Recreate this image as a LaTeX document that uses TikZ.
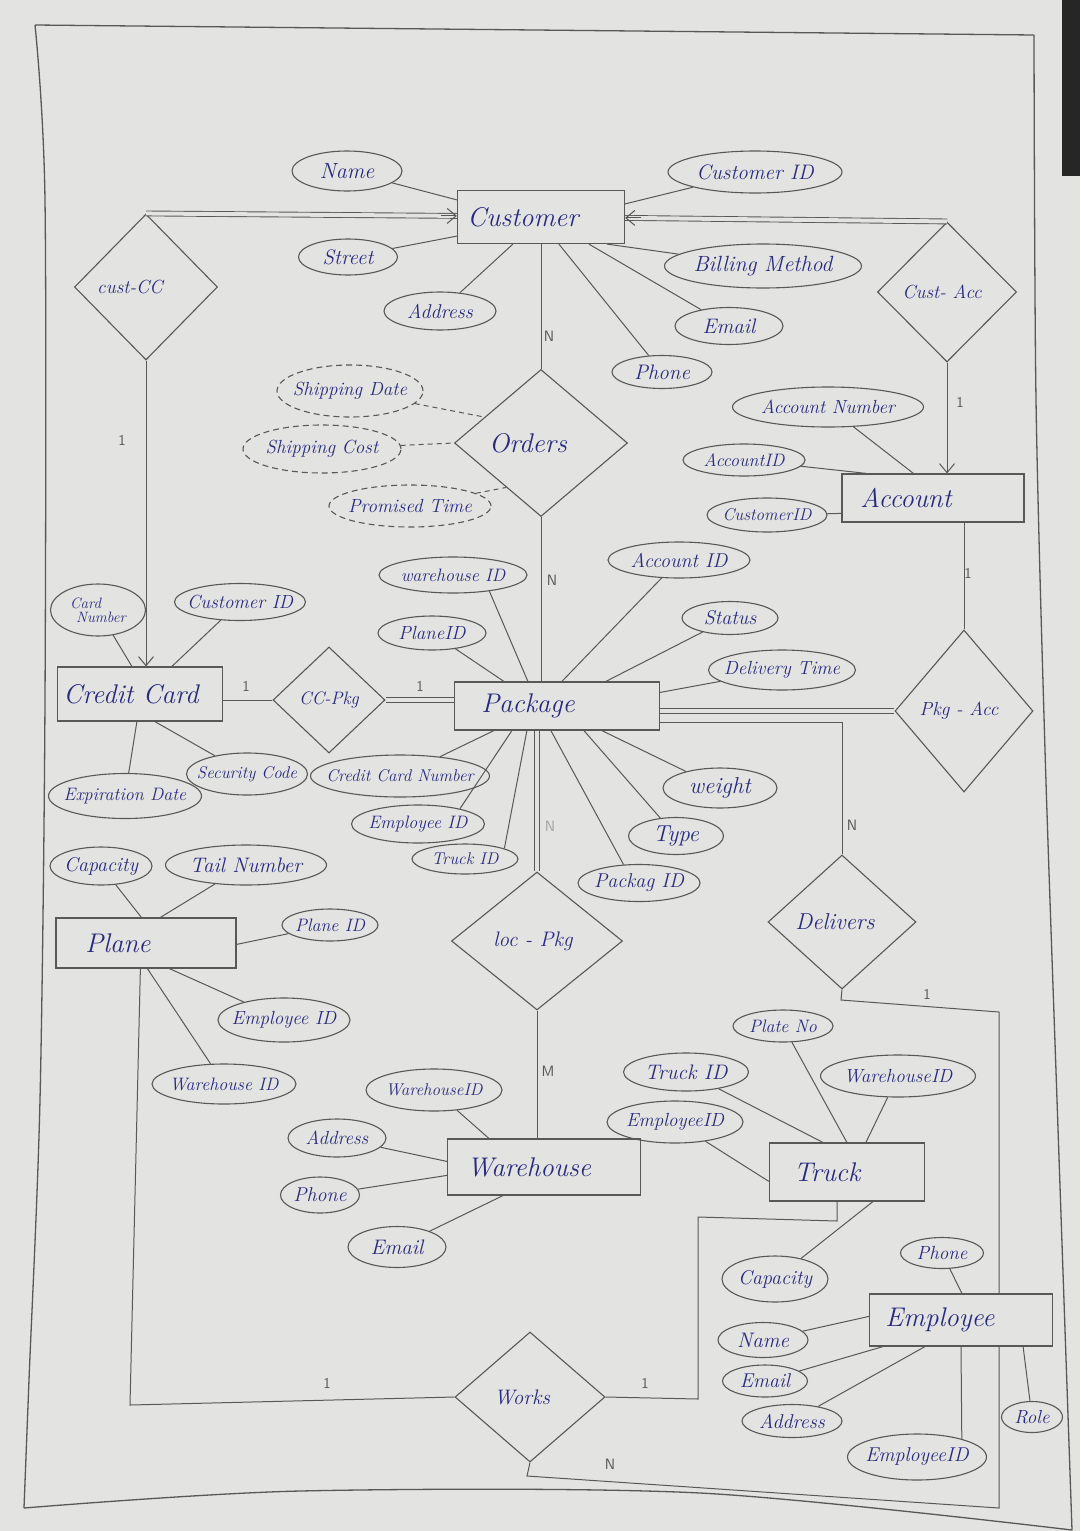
\documentclass[tikz,border=0pt]{standalone}
\usetikzlibrary{shapes.geometric,arrows.meta,calc}
\definecolor{ink}{RGB}{38,42,128}
\definecolor{pencil}{RGB}{88,88,88}
\definecolor{paper}{RGB}{227,227,225}
\newcommand\fsz[1]{\fontsize{#1}{#1}\selectfont\itshape}
\newcommand\zs[2]{\makebox[0pt]{#2\kern#1pt}}
\newcommand\zt[1]{\makebox[0pt]{#1}}
\begin{document}
\begin{tikzpicture}[x=1pt,y=-1pt,
 ent/.style={draw=pencil,line width=1.2pt,rectangle,inner sep=0pt,text=ink,font=\fsz{27}},
 attr/.style={draw=pencil,line width=1.1pt,ellipse,inner sep=0pt,text=ink},
 der/.style={attr,dash pattern=on 6pt off 4pt},
 rel/.style={draw=pencil,line width=1.1pt,diamond,inner sep=0pt,text=ink},
 conn/.style={draw=pencil,line width=1pt},
 dconn/.style={conn,dash pattern=on 5pt off 4pt},
 dbl/.style={draw=pencil,line width=0.9pt,double=paper,double distance=4pt},
 arr/.style={conn,-{Straight Barb[length=9pt,width=15pt]}},
 card/.style={text=pencil,font=\sffamily\fontsize{15}{15}\selectfont,inner sep=0pt}]
\useasboundingbox (0,0) rectangle (1080,1531);
\fill[paper] (0,0) rectangle (1080,1531);
\fill[black!85] (1062,0) rectangle (1080,176);
% page frame
\draw[pencil,line width=1.3pt] (35,25) -- (1034,35);
\draw[pencil,line width=1.3pt] plot[smooth] coordinates {(35,25) (45,200) (45,700) (40,1100) (29,1380) (24,1508)};
\draw[pencil,line width=1.3pt] plot[smooth] coordinates {(1034,35) (1036,400) (1045,750) (1057,1100) (1072,1530)};
\draw[pencil,line width=1.3pt] plot[smooth] coordinates {(24,1508) (300,1491) (700,1493) (1072,1530)};

% entities
\node[ent,minimum width=167,minimum height=53] (cust) at (541,217) {\zs{36}{Customer}};
\node[ent,minimum width=182,minimum height=48] (acc) at (933,498) {\zs{54}{Account}};
\node[ent,minimum width=205,minimum height=48] (pkg) at (557,706) {\zs{58}{Package}};
\node[ent,minimum width=165,minimum height=54] (cc) at (140,694) {\zs{18}{Credit Card}};
\node[ent,minimum width=180,minimum height=50] (plane) at (146,943) {\zs{56}{Plane}};
\node[ent,minimum width=193,minimum height=56] (wh) at (544,1167) {\zs{30}{Warehouse}};
\node[ent,minimum width=155,minimum height=58] (truck) at (847,1172) {\zs{40}{Truck}};
\node[ent,minimum width=183,minimum height=52] (emp) at (961,1320) {\zs{42}{Employee}};

% relationships
\node[rel,minimum width=143,minimum height=146,font=\fsz{19}] (custcc) at (146,287) {\zs{32}{cust-CC}};
\node[rel,minimum width=139,minimum height=140,font=\fsz{19}] (custacc) at (947,292) {\zs{10}{Cust- Acc}};
\node[rel,minimum width=173,minimum height=147,font=\fsz{27}] (orders) at (541,443) {\zs{26}{Orders}};
\node[rel,minimum width=112,minimum height=106,font=\fsz{18}] (ccpkg) at (329,700) {\zt{CC-Pkg}};
\node[rel,minimum width=138,minimum height=162,font=\fsz{19}] (pkgacc) at (964,711) {\zs{10}{Pkg - Acc}};
\node[rel,minimum width=171,minimum height=138,font=\fsz{21}] (locpkg) at (537,941) {\zs{8}{loc - Pkg}};
\node[rel,minimum width=148,minimum height=134,font=\fsz{23}] (deliv) at (842,922) {\zs{14}{Delivers}};
\node[rel,minimum width=150,minimum height=130,font=\fsz{21}] (works) at (530,1397) {\zs{16}{Works}};

% Customer attributes
\node[attr,minimum width=110,minimum height=40,font=\fsz{22}] (aname) at (347,171) {\zt{Name}};
\node[attr,minimum width=174,minimum height=42,font=\fsz{21}] (acid) at (755,172) {\zt{Customer ID}};
\node[attr,minimum width=99,minimum height=36,font=\fsz{21}] (astreet) at (348,257) {\zt{Street}};
\node[attr,minimum width=112,minimum height=38,font=\fsz{20}] (aaddr) at (440,311) {\zt{Address}};
\node[attr,minimum width=197,minimum height=44,font=\fsz{22}] (abill) at (763,266) {\zt{Billing Method}};
\node[attr,minimum width=108,minimum height=37,font=\fsz{21}] (aemail) at (729,326) {\zt{Email}};
\node[attr,minimum width=100,minimum height=33,font=\fsz{21}] (aphone) at (662,372) {\zt{Phone}};
% Orders attributes
\node[der,minimum width=146,minimum height=52,font=\fsz{19}] (asd) at (350,391) {\zt{Shipping Date}};
\node[der,minimum width=158,minimum height=48,font=\fsz{19}] (asc) at (322,449) {\zt{Shipping Cost}};
\node[der,minimum width=162,minimum height=42,font=\fsz{19}] (apt) at (410,506) {\zt{Promised Time}};
% Account attributes
\node[attr,minimum width=191,minimum height=40,font=\fsz{19}] (aaccno) at (828,407) {\zt{Account Number}};
\node[attr,minimum width=122,minimum height=32,font=\fsz{18}] (aaccid) at (744,460) {\zt{AccountID}};
\node[attr,minimum width=120,minimum height=34,font=\fsz{17}] (aacust) at (767,515) {\zt{CustomerID}};
% Package attributes
\node[attr,minimum width=148,minimum height=36,font=\fsz{18}] (pwid) at (453,575) {\zt{warehouse ID}};
\node[attr,minimum width=108,minimum height=34,font=\fsz{19}] (ppid) at (432,633) {\zt{PlaneID}};
\node[attr,minimum width=142,minimum height=36,font=\fsz{20}] (paid) at (679,560) {\zt{Account ID}};
\node[attr,minimum width=96,minimum height=33,font=\fsz{20}] (pstat) at (730,618) {\zt{Status}};
\node[attr,minimum width=147,minimum height=40,font=\fsz{19}] (pdt) at (782,670) {\zt{Delivery Time}};
\node[attr,minimum width=179,minimum height=42,font=\fsz{17}] (pccn) at (400,776) {\zt{Credit Card Number}};
\node[attr,minimum width=133,minimum height=38,font=\fsz{18}] (peid) at (418,824) {\zt{Employee ID}};
\node[attr,minimum width=106,minimum height=30,font=\fsz{17}] (ptid) at (465,859) {\zt{Truck ID}};
\node[attr,minimum width=114,minimum height=40,font=\fsz{23}] (pwt) at (720,788) {\zt{weight}};
\node[attr,minimum width=95,minimum height=37,font=\fsz{23}] (ptype) at (676,836) {\zt{Type}};
\node[attr,minimum width=122,minimum height=37,font=\fsz{20}] (ppkid) at (639,883) {\zt{Packag ID}};
% Credit Card attributes
\node[attr,minimum width=95,minimum height=52,font=\fsz{15}] (ccnum) at (98,610) {\zt{\shortstack[l]{Card\\\hspace*{6pt}Number}}};
\node[attr,minimum width=131,minimum height=37,font=\fsz{19}] (cccid) at (240,602) {\zt{Customer ID}};
\node[attr,minimum width=121,minimum height=42,font=\fsz{17}] (ccsec) at (247,774) {\zt{Security Code}};
\node[attr,minimum width=153,minimum height=45,font=\fsz{18}] (ccexp) at (125,796) {\zt{Expiration Date}};
% Plane attributes
\node[attr,minimum width=102,minimum height=38,font=\fsz{20}] (plcap) at (101,866) {\zt{Capacity}};
\node[attr,minimum width=161,minimum height=40,font=\fsz{21}] (pltail) at (246,865) {\zt{Tail Number}};
\node[attr,minimum width=96,minimum height=32,font=\fsz{18}] (plpid) at (330,925) {\zt{Plane ID}};
\node[attr,minimum width=132,minimum height=44,font=\fsz{19}] (pleid) at (284,1020) {\zt{Employee ID}};
\node[attr,minimum width=144,minimum height=40,font=\fsz{18}] (plwid) at (224,1084) {\zt{Warehouse ID}};
% Warehouse attributes
\node[attr,minimum width=136,minimum height=42,font=\fsz{17}] (wwid) at (434,1090) {\zt{WarehouseID}};
\node[attr,minimum width=98,minimum height=38,font=\fsz{19}] (waddr) at (337,1138) {\zt{Address}};
\node[attr,minimum width=79,minimum height=36,font=\fsz{20}] (wphone) at (320,1195) {\zt{Phone}};
\node[attr,minimum width=98,minimum height=41,font=\fsz{21}] (wemail) at (397,1247) {\zt{Email}};
% Truck attributes
\node[attr,minimum width=100,minimum height=32,font=\fsz{18}] (tplate) at (783,1026) {\zt{Plate No}};
\node[attr,minimum width=125,minimum height=38,font=\fsz{21}] (ttid) at (686,1072) {\zt{Truck ID}};
\node[attr,minimum width=155,minimum height=42,font=\fsz{19}] (twid) at (898,1076) {\zt{WarehouseID}};
\node[attr,minimum width=136,minimum height=42,font=\fsz{19}] (teid) at (675,1122) {\zt{EmployeeID}};
\node[attr,minimum width=106,minimum height=46,font=\fsz{20}] (tcap) at (775,1279) {\zt{Capacity}};
% Employee attributes
\node[attr,minimum width=83,minimum height=31,font=\fsz{19}] (ephone) at (942,1253) {\zt{Phone}};
\node[attr,minimum width=90,minimum height=35,font=\fsz{21}] (ename) at (763,1340) {\zt{Name}};
\node[attr,minimum width=85,minimum height=32,font=\fsz{20}] (eemail) at (765,1381) {\zt{Email}};
\node[attr,minimum width=100,minimum height=33,font=\fsz{20}] (eaddr) at (792,1421) {\zt{Address}};
\node[attr,minimum width=61,minimum height=31,font=\fsz{19}] (erole) at (1032,1417) {\zt{Role}};
\node[attr,minimum width=139,minimum height=46,font=\fsz{20}] (eeid) at (917,1457) {\zt{EmployeeID}};

% cardinality labels
\node[card] (l1) at (549,336) {N};
\node[card] (l2) at (552,580) {N};
\node[card] (l3) at (122,440) {1};
\node[card] (l4) at (960,402) {1};
\node[card] (l5) at (968,573) {1};
\node[card] (l6) at (246,686) {1};
\node[card] (l7) at (420,686) {1};
\node[card,text=pencil!55] (l8) at (550,826) {N};
\node[card] (l9) at (852,825) {N};
\node[card] (l10) at (548,1071) {M};
\node[card] (l11) at (927,994) {1};
\node[card] (l12) at (327,1383) {1};
\node[card] (l13) at (645,1383) {1};
\node[card] (l14) at (610,1464) {N};

% relationship connectors
\coordinate (ccin) at ($(cust.north west)+(0,26)$);
\draw[dbl] (custcc.north) -- (ccin);
\draw[arr] ($(ccin)+(-16,0)$) -- (ccin);
\coordinate (cain) at ($(cust.north east)+(0,28)$);
\draw[dbl] (custacc.north) -- (cain);
\draw[arr] ($(cain)+(16,0)$) -- (cain);
\draw[arr] (custcc.south) -- (custcc.south |- cc.north);
\draw[arr] (custacc.south) -- (custacc.south |- acc.north);
\draw[conn] (cust.south) -- (orders.north);
\draw[conn] (orders.south) -- (orders.south |- pkg.north);
\draw[conn] (pkgacc.north |- acc.south) -- (pkgacc.north);
\draw[dbl] (pkgacc.west -| pkg.east) -- (pkgacc.west);
\draw[conn] ($(pkg.south east)+(0,-8)$) -| (deliv.north);
\coordinate (dv1) at (841,1000);
\coordinate (dv2) at (999,1012);
\draw[conn] (deliv.south) -- (dv1) -- (dv2) -- (dv2 |- emp.north);
\draw[conn] (ccpkg.west -| cc.east) -- (ccpkg.west);
\draw[dbl] (ccpkg.east) -- (ccpkg.east -| pkg.west);
\draw[dbl] (locpkg.north |- pkg.south) -- (locpkg.north);
\draw[conn] (locpkg.south) -- (locpkg.south |- wh.north);
\coordinate (wl) at (130,1405);
\draw[conn] (works.west) -- (wl) -- ($(plane.south west)+(85,0)$);
\coordinate (wr1) at (698,1399);
\coordinate (wr2) at (698,1217);
\coordinate (wr3) at (837,1221);
\draw[conn] (works.east) -- (wr1) -- (wr2) -- (wr3) -- (wr3 |- truck.south);
\coordinate (wb1) at (527,1476);
\coordinate (wb2) at (999,1508);
\draw[conn] (works.south) -- (wb1) -- (wb2) -- (wb2 |- emp.south);

% attribute connectors
\draw[conn] (aname) -- ($(cust.north west)+(0,10)$);
\draw[conn] (acid) -- ($(cust.north east)+(0,14)$);
\draw[conn] (astreet) -- ($(cust.south west)+(0,-8)$);
\draw[conn] (aaddr) -- ($(cust.south west)+(56,0)$);
\draw[conn] (abill) -- ($(cust.south west)+(150,0)$);
\draw[conn] (aemail) -- ($(cust.south west)+(132,0)$);
\draw[conn] (aphone) -- ($(cust.south west)+(102,0)$);
\draw[dconn] (asd) -- ($(orders.west)!0.35!(orders.north)$);
\draw[dconn] (asc) -- (orders.west);
\draw[dconn] (apt) -- ($(orders.west)!0.6!(orders.south)$);
\draw[conn] (aaccno) -- ($(acc.north west)+(72,0)$);
\draw[conn] (aaccid) -- ($(acc.north west)+(25,0)$);
\draw[conn] (aacust) -- ($(acc.north west)+(0,40)$);
\draw[conn] (pwid.336) -- ($(pkg.north west)+(74,0)$);
\draw[conn] (ppid) -- ($(pkg.north west)+(50,0)$);
\draw[conn] (paid) -- ($(pkg.north west)+(108,0)$);
\draw[conn] (pstat) -- ($(pkg.north west)+(152,0)$);
\draw[conn] (pdt) -- ($(pkg.north east)+(0,11)$);
\draw[conn] (pccn) -- ($(pkg.south west)+(40,0)$);
\draw[conn] (peid.20) -- ($(pkg.south west)+(58,0)$);
\draw[conn] (ptid.15) -- ($(pkg.south west)+(73,0)$);
\draw[conn] (pwt) -- ($(pkg.south west)+(148,0)$);
\draw[conn] (ptype) -- ($(pkg.south west)+(130,0)$);
\draw[conn] (ppkid.130) -- ($(pkg.south west)+(97,0)$);
\draw[conn] (ccnum) -- ($(cc.north west)+(75,0)$);
\draw[conn] (cccid) -- ($(cc.north west)+(115,0)$);
\draw[conn] (ccsec) -- ($(cc.south west)+(98,0)$);
\draw[conn] (ccexp) -- ($(cc.south west)+(80,0)$);
\draw[conn] (plcap) -- ($(plane.north west)+(86,0)$);
\draw[conn] (pltail) -- ($(plane.north west)+(105,0)$);
\draw[conn] (plpid) -- ($(plane.north east)+(0,27)$);
\draw[conn] (pleid) -- ($(plane.south west)+(114,0)$);
\draw[conn] (plwid) -- ($(plane.south west)+(92,0)$);
\draw[conn] (wwid) -- ($(wh.north west)+(42,0)$);
\draw[conn] (waddr) -- ($(wh.north west)+(0,23)$);
\draw[conn] (wphone) -- ($(wh.north west)+(0,37)$);
\draw[conn] (wemail) -- ($(wh.south west)+(56,0)$);
\draw[conn] (tplate) -- ($(truck.north west)+(78,0)$);
\draw[conn] (ttid) -- ($(truck.north west)+(54,0)$);
\draw[conn] (twid) -- ($(truck.north west)+(97,0)$);
\draw[conn] (teid) -- ($(truck.north west)+(0,39)$);
\draw[conn] (tcap) -- ($(truck.south west)+(104,0)$);
\draw[conn] (ephone) -- ($(emp.north west)+(93,0)$);
\draw[conn] (ename) -- ($(emp.north west)+(0,23)$);
\draw[conn] (eemail) -- ($(emp.south west)+(14,0)$);
\draw[conn] (eaddr) -- ($(emp.south west)+(56,0)$);
\draw[conn] (eeid.22) -- (emp.south);
\draw[conn] (erole) -- ($(emp.south east)+(-30,0)$);
\end{tikzpicture}
\end{document}
